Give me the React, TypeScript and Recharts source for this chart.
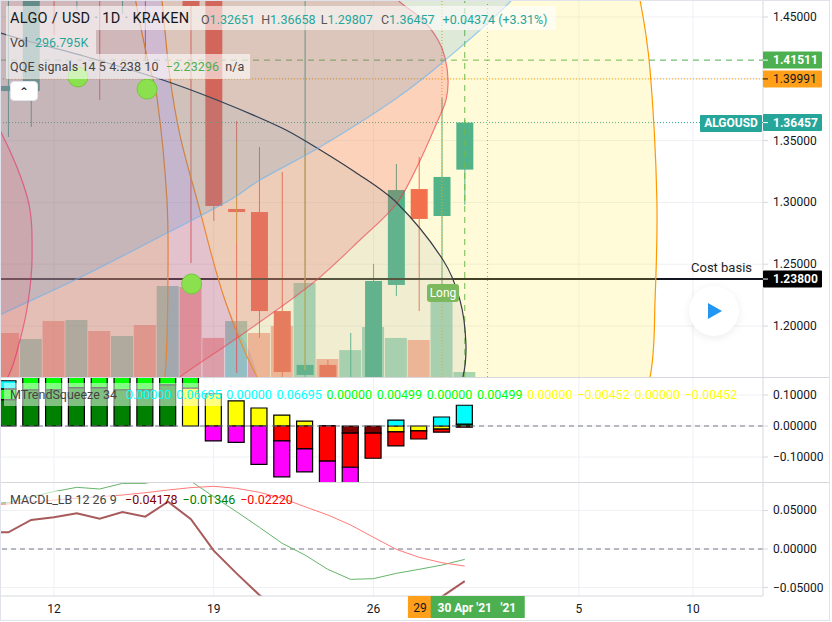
import React from 'react';
import {
  Bar, BarChart, CartesianGrid, Cell, ComposedChart, Line, LineChart, ReferenceLine,
  Scatter, ScatterChart, XAxis, YAxis,
} from 'recharts';

const days = [10, 11, 12, 13, 14, 15, 16, 17, 18, 19, 20, 21, 22, 23, 24, 25, 26, 27, 28, 29, 30];
const opens = [1.3901, 1.3901, 1.52, 1.48, 1.56, 1.5, 1.6, 1.55, 1.62, 1.47, 1.2947, 1.2922, 1.2121, 1.1604, 1.1685, 1.13, 1.14, 1.2332, 1.3108, 1.289, 1.32651];
const highs = [1.4718, 1.5, 1.53, 1.52, 1.58, 1.58, 1.62, 1.65, 1.66, 1.48, 1.3659, 1.3448, 1.3246, 1.47, 1.1725, 1.1944, 1.2502, 1.3311, 1.3367, 1.3845, 1.36658];
const lows = [1.3529, 1.361, 1.4354, 1.4557, 1.3828, 1.4524, 1.4152, 1.5, 1.251, 1.285, 1.162, 1.1903, 1.15, 1.15, 1.14, 1.12, 1.13, 1.2243, 1.2121, 1.2235, 1.29807];
const closes = [1.3942, 1.49, 1.5, 1.5, 1.5, 1.56, 1.52, 1.62, 1.4589, 1.2971, 1.2922, 1.2121, 1.1628, 1.1685, 1.15, 1.15, 1.2364, 1.31, 1.2866, 1.3206, 1.36457];
const volumes = [2.61, 2.26, 3.33, 3.39, 2.73, 2.44, 3.09, 5.41, 5.35, 2.32, 3.33, 2.61, 3.03, 5.58, 1.07, 1.6, 2.97, 2.32, 2.2, 4.75, 0.2968];
const volumeRising = [false, true, false, true, false, true, false, true, false, false, true, false, false, true, false, true, true, true, false, true, true];

const sqDarkGreen = [0.085, 0.117, 0.117, 0.124, 0.124, 0.117, 0.117, 0.133, null, null, null, null, null, null, null, null, null, null, null, null, null];
const sqDarkRed = [null, null, null, null, null, null, null, null, null, null, null, null, null, null, null, -0.023, -0.023, null, null, null, null];
const sqYellow = [null, null, null, null, null, null, null, null, 0.1226, 0.104, 0.081, 0.058, 0.035, 0.016, 0.001, null, null, -0.019, -0.016, -0.01, null];
const sqLime = [0.035, 0.1, 0.1, 0.1, 0.1, 0.1, 0.1, 0.1, 0.05, null, null, null, null, null, null, null, null, null, null, null, 0.006];
const sqCyan = [0.026, null, null, null, null, null, null, null, null, null, null, null, null, null, null, null, null, 0.019, null, 0.029, 0.061];
const sqRed = [null, null, null, null, null, null, null, null, null, null, null, null, -0.048, -0.074, -0.113, -0.11, -0.081, -0.045, -0.026, -0.01, -0.004];
const sqMagenta = [null, null, null, null, null, null, null, null, null, -0.048, -0.053, -0.124, -0.116, -0.074, -0.09, -0.08, null, null, null, null, null];

const macdDays = [9, ...days];
const macdLine = [0.0221, 0.0217, 0.0377, 0.0411, 0.0463, 0.0394, 0.0481, 0.042, 0.0614, 0.0386, -0.0022, -0.0316, -0.0597, -0.08, -0.1, -0.12, -0.12, -0.11, -0.1, -0.08, -0.0619, -0.04178];
const signalLine = [0.0585, 0.0602, 0.0679, 0.0745, 0.0801, 0.0779, 0.0852, 0.0852, 0.092, 0.088, 0.0679, 0.0484, 0.0282, 0.0074, -0.0078, -0.0264, -0.0394, -0.0385, -0.0316, -0.0264, -0.0208, -0.01346];
const slowLine = [0.0572, 0.0585, 0.0606, 0.0637, 0.0658, 0.0679, 0.0701, 0.0731, 0.0766, 0.0797, 0.0814, 0.0788, 0.0736, 0.0658, 0.0549, 0.0442, 0.0312, 0.0152, -0.0004, -0.0108, -0.0178, -0.0221];

const qqeDots = [
  { day: 13.05, price: 1.4015 },
  { day: 16.08, price: 1.3917 },
  { day: 18.03, price: 1.234 },
];

// drawings on the price pane, as [day, price] vertices
const yellowArc = [[37.02, 1.5123], [37.68, 1.46375], [38.12, 1.4071], [38.42, 1.302], [38.34, 1.221], [38.12, 1.1588], [36.8, 1.0835], [29.35, 1.0431], [22.78, 1.1078], [20.9, 1.1588], [19.49, 1.221], [18.27, 1.302], [17.52, 1.3545], [17.08, 1.4015], [16.73, 1.46375], [16.43, 1.5123]];
const secondYellowArc = [[15.11, 1.5123], [15.59, 1.4621], [16.08, 1.4176], [16.51, 1.3853], [16.95, 1.302], [16.99, 1.2348], [16.86, 1.1588], [16.21, 1.0754], [9.63, 1.0107], [0.87, 1.1401], [-1.32, 1.3424], [3.06, 1.5285], [9.63, 1.5689]];
const purpleArc = [[16.43, 1.5123], [16.73, 1.46375], [17.08, 1.4015], [17.52, 1.3545], [18.27, 1.302], [19.49, 1.221], [20.9, 1.1588], [20.59, 1.0754], [11.82, 1.0026], [0.87, 1.1401], [-1.32, 1.3424], [3.06, 1.5285], [9.63, 1.5689]];
const redArc = [[22.78, 1.5447], [25.85, 1.484], [27.16, 1.4621], [28.17, 1.4476], [28.83, 1.4314], [29.13, 1.4176], [29.27, 1.399], [29.18, 1.3828], [28.83, 1.3667], [27.99, 1.3319], [27.03, 1.2995], [25.41, 1.2696], [23.35, 1.2348], [20.02, 1.1903], [17.52, 1.1588], [14.02, 1.1078], [5.25, 1.0431], [-3.51, 1.221], [-1.32, 1.46375], [9.63, 1.5851]];
const blackArc = [[3.06, 1.4799], [9.63, 1.4371], [13.14, 1.4193], [16.51, 1.4006], [19.14, 1.3828], [21.9, 1.361], [23.09, 1.3489], [25.19, 1.3246], [27.03, 1.2995], [29.05, 1.2534], [29.79, 1.221], [30.05, 1.1863], [29.92, 1.1588], [28.91, 1.0997], [22.78, 1.0107], [5.25, 1.0107], [-5.7, 1.221], [-3.51, 1.4233]];
const blueArc = [[0.87, 1.13], [9.63, 1.2089], [13.01, 1.238], [16.95, 1.2752], [19.71, 1.3019], [21.03, 1.3181], [23.66, 1.3448], [26.9, 1.3828], [29.05, 1.4136], [31.98, 1.4621], [34.61, 1.5204], [29.35, 1.6417], [14.02, 1.6903], [-3.51, 1.5851], [-10.08, 1.3424]];
const smallRedArc = [[8.32, 1.395], [9.63, 1.3586], [10.86, 1.302], [11.04, 1.2558], [10.86, 1.2186], [10.51, 1.1887], [9.98, 1.1588], [8.32, 1.1159], [5.25, 1.221], [5.69, 1.3424]];

const xDomain = [9.634, 43.07];
const priceDomain = [1.15874, 1.46375];
const volumeDomain = [0, 22.4];
const squeezeDomain = [-0.1871, 0.1613];
const macdDomain = [-0.061, 0.0857];

const gridDays = [12, 19, 26, 35, 40];
const gridPrices = [1.2, 1.25, 1.3, 1.35, 1.4, 1.45];
const priceTicks = [1.2, 1.25, 1.3, 1.35, 1.45, 1.41511, 1.39991, 1.36457, 1.238];
const squeezeTicks = [0.1, 0, -0.1];
const macdTicks = [0.05, 0, -0.05];
const dayTicks = [12, 19, 26, 29, 30, 32, 35, 40];

const UP = '#26a69a';
const DOWN = '#ef5350';
const GRID = '#eef0f4';
const AXIS = '#d6d8dd';
const FONT = 'Roboto, sans-serif';

const priceTags: Record<string, { bg: string; fg: string; weight: number }> = {
  '1.41511': { bg: '#4caf50', fg: '#fff', weight: 700 },
  '1.39991': { bg: '#ff9f1a', fg: '#131722', weight: 400 },
  '1.36457': { bg: UP, fg: '#fff', weight: 700 },
  '1.23800': { bg: '#000', fg: '#fff', weight: 700 },
};

const toPoints = (arc: number[][]) => arc.map(([day, price]) => ({ day, price }));

const candleRows = days.map((day, i) => ({
  day, open: opens[i], high: highs[i], low: lows[i], close: closes[i], volume: volumes[i],
}));
const squeezeRows = days.map((day, i) => ({
  day,
  darkGreen: sqDarkGreen[i], darkRed: sqDarkRed[i], yellow: sqYellow[i],
  lime: sqLime[i], cyan: sqCyan[i], red: sqRed[i], magenta: sqMagenta[i],
}));
const macdRows = macdDays.map((day, i) => ({
  day, macd: macdLine[i], signal: signalLine[i], slow: slowLine[i],
}));

// hermite through the vertices, handle length follows the local chord so uneven spacing doesn't wobble
const smoothPath = (pts: { x: number; y: number }[]) => {
  let d = `M${pts[0].x},${pts[0].y}`;
  const tangent = (i: number) => {
    const a = pts[Math.max(i - 1, 0)];
    const b = pts[Math.min(i + 1, pts.length - 1)];
    const len = Math.hypot(b.x - a.x, b.y - a.y) || 1;
    return { x: (b.x - a.x) / len, y: (b.y - a.y) / len };
  };
  for (let i = 0; i < pts.length - 1; i++) {
    const p = pts[i];
    const q = pts[i + 1];
    const h = Math.hypot(q.x - p.x, q.y - p.y) / 3;
    const t0 = tangent(i);
    const t1 = tangent(i + 1);
    d += `C${p.x + t0.x * h},${p.y + t0.y * h} ${q.x - t1.x * h},${q.y - t1.y * h} ${q.x},${q.y}`;
  }
  return d;
};

const Candle = (props: any) => {
  const { x, y, width, height, payload } = props;
  const perUnit = height / (payload.high - payload.low);
  const rising = payload.close >= payload.open;
  const top = y + (payload.high - Math.max(payload.open, payload.close)) * perUnit;
  const bodyHeight = Math.max(Math.abs(payload.close - payload.open) * perUnit, 1);
  const color = rising ? UP : DOWN;
  return (
    <g>
      <line x1={x + width / 2} x2={x + width / 2} y1={y} y2={y + height} stroke={color} />
      <rect x={x} y={top} width={width} height={bodyHeight} fill={color} />
    </g>
  );
};

const PriceTick = (props: any) => {
  const { x, y, payload } = props;
  const text = payload.value.toFixed(5).replace('-', '−');
  const tag = priceTags[text];
  return (
    <g>
      {tag && <rect x={x - 10} y={y - 8.5} width={59} height={17} rx={1} fill={tag.bg} />}
      <line x1={x - 10} x2={x - 5} y1={y} y2={y} stroke={tag ? tag.fg : AXIS} />
      <text x={x} y={y + 4} fontSize={12} fontFamily={FONT} fontWeight={tag ? tag.weight : 400} fill={tag ? tag.fg : '#131722'}>
        {text}
      </text>
    </g>
  );
};

const DayTick = (props: any) => {
  const { x, y, payload } = props;
  const day = payload.value;
  if (day === 29) {
    return (
      <g>
        <rect x={x - 34} y={y} width={24} height={22} fill="#ff9f1a" />
        <text x={x - 22} y={y + 16} textAnchor="middle" fontSize={12} fontFamily={FONT} fill="#131722">29</text>
      </g>
    );
  }
  if (day === 30) {
    return (
      <g>
        <rect x={x - 34} y={y} width={94} height={22} fill="#4caf50" />
        <text x={x} y={y + 16} textAnchor="middle" fontSize={12} fontWeight={700} fontFamily={FONT} fill="#fff">30 Apr '21</text>
      </g>
    );
  }
  if (day === 32) {
    return <text x={x - 2} y={y + 16} textAnchor="middle" fontSize={12} fontWeight={700} fontFamily={FONT} fill="#fff">'21</text>;
  }
  return (
    <text x={x} y={y + 17} textAnchor="middle" fontSize={12} fontFamily={FONT} fill="#131722">
      {day > 31 ? day - 30 : day}
    </text>
  );
};

const noDot = () => <g />;

const arcLayer = (key: string, arc: number[][], fill: string, stroke: string, strokeWidth = 1.2) => (
  <Scatter
    key={key}
    data={toPoints(arc)}
    isAnimationActive={false}
    shape={noDot}
    line={(p: any) => <path d={smoothPath(p.points)} fill={fill} stroke={stroke} strokeWidth={strokeWidth} />}
  />
);

const abs = (left: number, top: number, extra?: React.CSSProperties): React.CSSProperties => ({
  position: 'absolute', left, top, whiteSpace: 'nowrap', ...extra,
});

export default function App() {
  const zeroMargin = { top: 0, right: 0, bottom: 0, left: 0 };
  return (
    <div style={{ position: 'absolute', left: 0, top: 0, width: 832, height: 622, overflow: 'hidden', background: '#fff', fontFamily: FONT, color: '#131722' }}>
      {/* price pane */}
      <div style={abs(0, 0, { width: 832, height: 377, overflow: 'hidden' })}>
        <div style={abs(0, 0)}>
          <ComposedChart width={763} height={377} data={candleRows} margin={zeroMargin}>
            <CartesianGrid stroke={GRID} verticalValues={gridDays} horizontalValues={gridPrices} yAxisId="p" />
            <XAxis dataKey="day" type="number" domain={xDomain} allowDataOverflow hide />
            <YAxis yAxisId="p" type="number" domain={priceDomain} allowDataOverflow hide />
            <YAxis yAxisId="v" type="number" domain={volumeDomain} allowDataOverflow hide />
            <Bar yAxisId="v" dataKey="volume" barSize={22} isAnimationActive={false}>
              {candleRows.map((row, i) => (
                <Cell key={row.day} fill={volumeRising[i] ? 'rgba(38,166,154,0.5)' : 'rgba(239,83,80,0.5)'} />
              ))}
            </Bar>
          </ComposedChart>
        </div>
        <div style={abs(0, 0)}>
          <ComposedChart width={832} height={377} data={candleRows} margin={zeroMargin}>
            <XAxis dataKey="day" type="number" domain={xDomain} allowDataOverflow hide />
            <YAxis
              orientation="right"
              width={69}
              type="number"
              domain={priceDomain}
              allowDataOverflow
              ticks={priceTicks}
              interval={0}
              tick={<PriceTick />}
              tickLine={false}
              tickSize={5}
              tickMargin={5}
              axisLine={{ stroke: AXIS }}
            />
            <Bar dataKey={(d: any) => [d.low, d.high]} barSize={17} shape={<Candle />} isAnimationActive={false} />
          </ComposedChart>
        </div>
        <div style={abs(0, 0, { width: 763, height: 377, overflow: 'hidden' })}>
          <ScatterChart width={763} height={377} margin={zeroMargin}>
            <XAxis dataKey="day" type="number" domain={xDomain} allowDataOverflow hide />
            <YAxis dataKey="price" type="number" domain={priceDomain} allowDataOverflow hide />
            {arcLayer('yellow', yellowArc, 'rgba(255,235,59,0.2)', '#ff9800')}
            {arcLayer('yellow2', secondYellowArc, 'rgba(255,235,59,0.2)', '#ff9800')}
            {arcLayer('purple', purpleArc, 'rgba(103,58,183,0.11)', 'none')}
            {arcLayer('red', redArc, 'rgba(242,54,69,0.2)', 'rgba(242,54,69,0.65)')}
            {arcLayer('black', blackArc, 'rgba(180,180,180,0.18)', '#363a45')}
            {arcLayer('blue', blueArc, 'rgba(0,115,210,0.125)', 'rgba(100,181,246,0.65)')}
            {arcLayer('smallRed', smallRedArc, 'rgba(242,54,69,0.1)', 'rgba(233,30,99,0.55)')}
            <ReferenceLine y={1.41511} stroke="#4caf50" strokeDasharray="6 5" strokeWidth={1} />
            <ReferenceLine y={1.39991} stroke="#ff9800" strokeDasharray="1 2" strokeWidth={1} />
            <ReferenceLine y={1.36457} stroke={UP} strokeDasharray="1 2" strokeWidth={1} />
            <ReferenceLine y={1.238} stroke="#131722" strokeWidth={2} />
            <ReferenceLine x={29} stroke="#ff9800" strokeDasharray="1 2" strokeWidth={1} />
            <ReferenceLine x={30} stroke="#4caf50" strokeDasharray="6 5" strokeWidth={1} />
            <ReferenceLine x={31} stroke="#4caf50" strokeDasharray="1 3" strokeWidth={1} />
            <ReferenceLine segment={[{ x: 20, y: 1.3497 }, { x: 20, y: 1.2672 }]} stroke="#c9a13b" />
            <ReferenceLine segment={[{ x: 23, y: 1.344 }, { x: 23, y: 1.1644 }]} stroke="#c9a13b" />
            <Scatter
              data={qqeDots}
              isAnimationActive={false}
              shape={(p: any) => <circle cx={p.cx} cy={p.cy} r={10} fill="#8be04e" stroke="#74c83f" />}
            />
          </ScatterChart>
        </div>

        <div style={abs(6, 6, { width: 550, height: 24, background: 'rgba(255,255,255,0.6)' })} />
        <div style={abs(6, 30, { width: 90, height: 24, background: 'rgba(255,255,255,0.6)' })} />
        <div style={abs(6, 54, { width: 244, height: 25, background: 'rgba(255,255,255,0.6)' })} />
        <div style={abs(10, 10, { fontSize: 14.5, letterSpacing: 0.3, lineHeight: '18px' })}>
          ALGO / USD <span style={{ opacity: 0.3 }}>·</span> 1D <span style={{ opacity: 0.3 }}>·</span> KRAKEN
        </div>
        <div style={abs(201, 11, { fontSize: 12.5, lineHeight: '18px', color: UP })}>
          <span style={{ color: '#555' }}>O</span>1.32651{' '}
          <span style={{ color: '#555', marginLeft: 3 }}>H</span>1.36658{' '}
          <span style={{ color: '#555', marginLeft: 2 }}>L</span>1.29807{' '}
          <span style={{ color: '#555', marginLeft: 5 }}>C</span>1.36457
          <span style={{ marginLeft: 8 }}>+0.04374 (+3.31%)</span>
        </div>
        <div style={abs(10, 34, { fontSize: 12.5, lineHeight: '18px', color: '#444' })}>
          Vol <span style={{ color: UP, marginLeft: 4 }}>296.795K</span>
        </div>
        <div style={abs(10, 58, { fontSize: 12.5, letterSpacing: 0.1, lineHeight: '18px', color: '#444' })}>
          QQE signals 14 5 4.238 10 <span style={{ color: '#4caf50', marginLeft: 4 }}>−2.23296</span>
          <span style={{ marginLeft: 6 }}>n/a</span>
        </div>
        <div style={abs(10, 81, { width: 28, height: 20, boxSizing: 'border-box', background: '#fff', border: '1px solid #e0e3eb', borderRadius: 4, textAlign: 'center', fontSize: 12, lineHeight: '20px' })}>
          ⌃
        </div>

        <div style={abs(427, 284, { width: 32, height: 18, background: '#7cb95c', color: '#fff', fontSize: 12, lineHeight: '18px', textAlign: 'center', borderRadius: 3 })}>
          Long
        </div>
        <div style={abs(691, 260, { fontSize: 13, lineHeight: '16px', color: '#222' })}>Cost basis</div>
        <div style={abs(700, 115, { width: 62, height: 17, background: UP, color: '#fff', fontSize: 12, fontWeight: 700, lineHeight: '17px', textAlign: 'center', borderRadius: 1 })}>
          ALGOUSD
        </div>
        <div style={abs(689, 286, { width: 50, height: 50, borderRadius: 25, background: '#fff', boxShadow: '0 2px 8px rgba(0,0,0,0.08)' })} />
        <div style={abs(708, 303, { width: 0, height: 0, borderTop: '8.5px solid transparent', borderBottom: '8.5px solid transparent', borderLeft: '14px solid #2196f3' })} />
      </div>

      {/* squeeze pane, chart runs 2px past the pane so clipped bars show no end stroke */}
      <div style={abs(0, 378, { height: 104, width: 832, overflow: 'hidden' })}>
        <div style={abs(0, -2)}>
          <BarChart width={832} height={108} data={squeezeRows} margin={zeroMargin} stackOffset="sign">
            <CartesianGrid stroke={GRID} verticalValues={gridDays} horizontalValues={squeezeTicks} />
            <XAxis dataKey="day" type="number" domain={xDomain} allowDataOverflow hide />
            <YAxis
              orientation="right"
              width={69}
              type="number"
              domain={squeezeDomain}
              allowDataOverflow
              ticks={squeezeTicks}
              interval={0}
              tick={<PriceTick />}
              tickLine={false}
              tickSize={5}
              tickMargin={5}
              axisLine={{ stroke: AXIS }}
            />
            <Bar dataKey="darkGreen" stackId="s" barSize={16} fill="#008000" stroke="#000" strokeWidth={1.2} isAnimationActive={false} />
            <Bar dataKey="darkRed" stackId="s" barSize={16} fill="#800000" stroke="#000" strokeWidth={1.2} isAnimationActive={false} />
            <Bar dataKey="yellow" stackId="s" barSize={16} fill="#ffff00" stroke="#000" strokeWidth={1.2} isAnimationActive={false} />
            <Bar dataKey="lime" stackId="s" barSize={16} fill="#00ff00" stroke="#000" strokeWidth={1.2} isAnimationActive={false} />
            <Bar dataKey="cyan" stackId="s" barSize={16} fill="#00ffff" stroke="#000" strokeWidth={1.2} isAnimationActive={false} />
            <Bar dataKey="red" stackId="s" barSize={16} fill="#ff0000" stroke="#000" strokeWidth={1.2} isAnimationActive={false} />
            <Bar dataKey="magenta" stackId="s" barSize={16} fill="#ff00ff" stroke="#000" strokeWidth={1.2} isAnimationActive={false} />
            <ReferenceLine y={0} stroke="#787b86" strokeDasharray="5 4" />
          </BarChart>
        </div>
        <div style={abs(4, 5, { width: 220, height: 23, background: 'rgba(255,255,255,0.5)' })} />
        <div style={abs(10, 8, { fontSize: 12.5, lineHeight: '18px', color: '#444' })}>MTrendSqueeze 34</div>
        <div style={abs(126, 8, { fontSize: 12.5, lineHeight: '18px', display: 'flex', gap: 4.7 })}>
          <span style={{ color: '#00ffff' }}>0.00000</span>
          <span style={{ color: '#00ffff' }}>0.06695</span>
          <span style={{ color: '#00ffff' }}>0.00000</span>
          <span style={{ color: '#00ffff' }}>0.06695</span>
          <span style={{ color: '#00ff00' }}>0.00000</span>
          <span style={{ color: '#00ff00' }}>0.00499</span>
          <span style={{ color: '#00ff00' }}>0.00000</span>
          <span style={{ color: '#00ff00' }}>0.00499</span>
          <span style={{ color: '#ffff00' }}>0.00000</span>
          <span style={{ color: '#ffff00' }}>−0.00452</span>
          <span style={{ color: '#ffff00' }}>0.00000</span>
          <span style={{ color: '#ffff00' }}>−0.00452</span>
        </div>
      </div>

      {/* macd pane and time axis */}
      <div style={abs(0, 483, { width: 832, height: 139 })}>
        <LineChart width={832} height={139} data={macdRows} margin={zeroMargin}>
          <CartesianGrid stroke={GRID} verticalValues={gridDays} horizontalValues={macdTicks} />
          <XAxis
            dataKey="day"
            type="number"
            domain={xDomain}
            allowDataOverflow
            ticks={dayTicks}
            interval={0}
            height={26}
            tick={<DayTick />}
            tickLine={false}
            tickSize={0}
            tickMargin={0}
            axisLine={{ stroke: AXIS }}
          />
          <YAxis
            orientation="right"
            width={69}
            type="number"
            domain={macdDomain}
            allowDataOverflow
            ticks={macdTicks}
            interval={0}
            tick={<PriceTick />}
            tickLine={false}
            tickSize={5}
            tickMargin={5}
            axisLine={{ stroke: AXIS }}
          />
          <ReferenceLine y={0} stroke="#787b86" strokeDasharray="5 4" />
          <Line dataKey="signal" stroke="#66b56a" strokeWidth={1} dot={false} isAnimationActive={false} />
          <Line dataKey="slow" stroke="#ff7a7a" strokeWidth={1} dot={false} isAnimationActive={false} />
          <Line dataKey="macd" stroke="#a85a5a" strokeWidth={2} dot={false} isAnimationActive={false} />
        </LineChart>
        <div style={abs(6, 8, { width: 110, height: 18, background: 'rgba(255,255,255,0.6)' })} />
        <div style={abs(10, 8, { fontSize: 12.5, lineHeight: '18px', color: '#444' })}>MACDL_LB 12 26 9</div>
        <div style={abs(125, 8, { fontSize: 12.5, lineHeight: '18px', display: 'flex', gap: 5 })}>
          <span style={{ color: '#800000' }}>−0.04178</span>
          <span style={{ color: '#008000' }}>−0.01346</span>
          <span style={{ color: '#ff0000' }}>−0.02220</span>
        </div>
      </div>

      {/* pane separators and frame */}
      <div style={abs(0, 377, { width: 830, height: 1, background: AXIS })} />
      <div style={abs(0, 482, { width: 830, height: 1, background: AXIS })} />
      <div style={abs(0, 0, { width: 830, height: 621, boxSizing: 'border-box', border: '1px solid #e0e3eb', pointerEvents: 'none' })} />
    </div>
  );
}
